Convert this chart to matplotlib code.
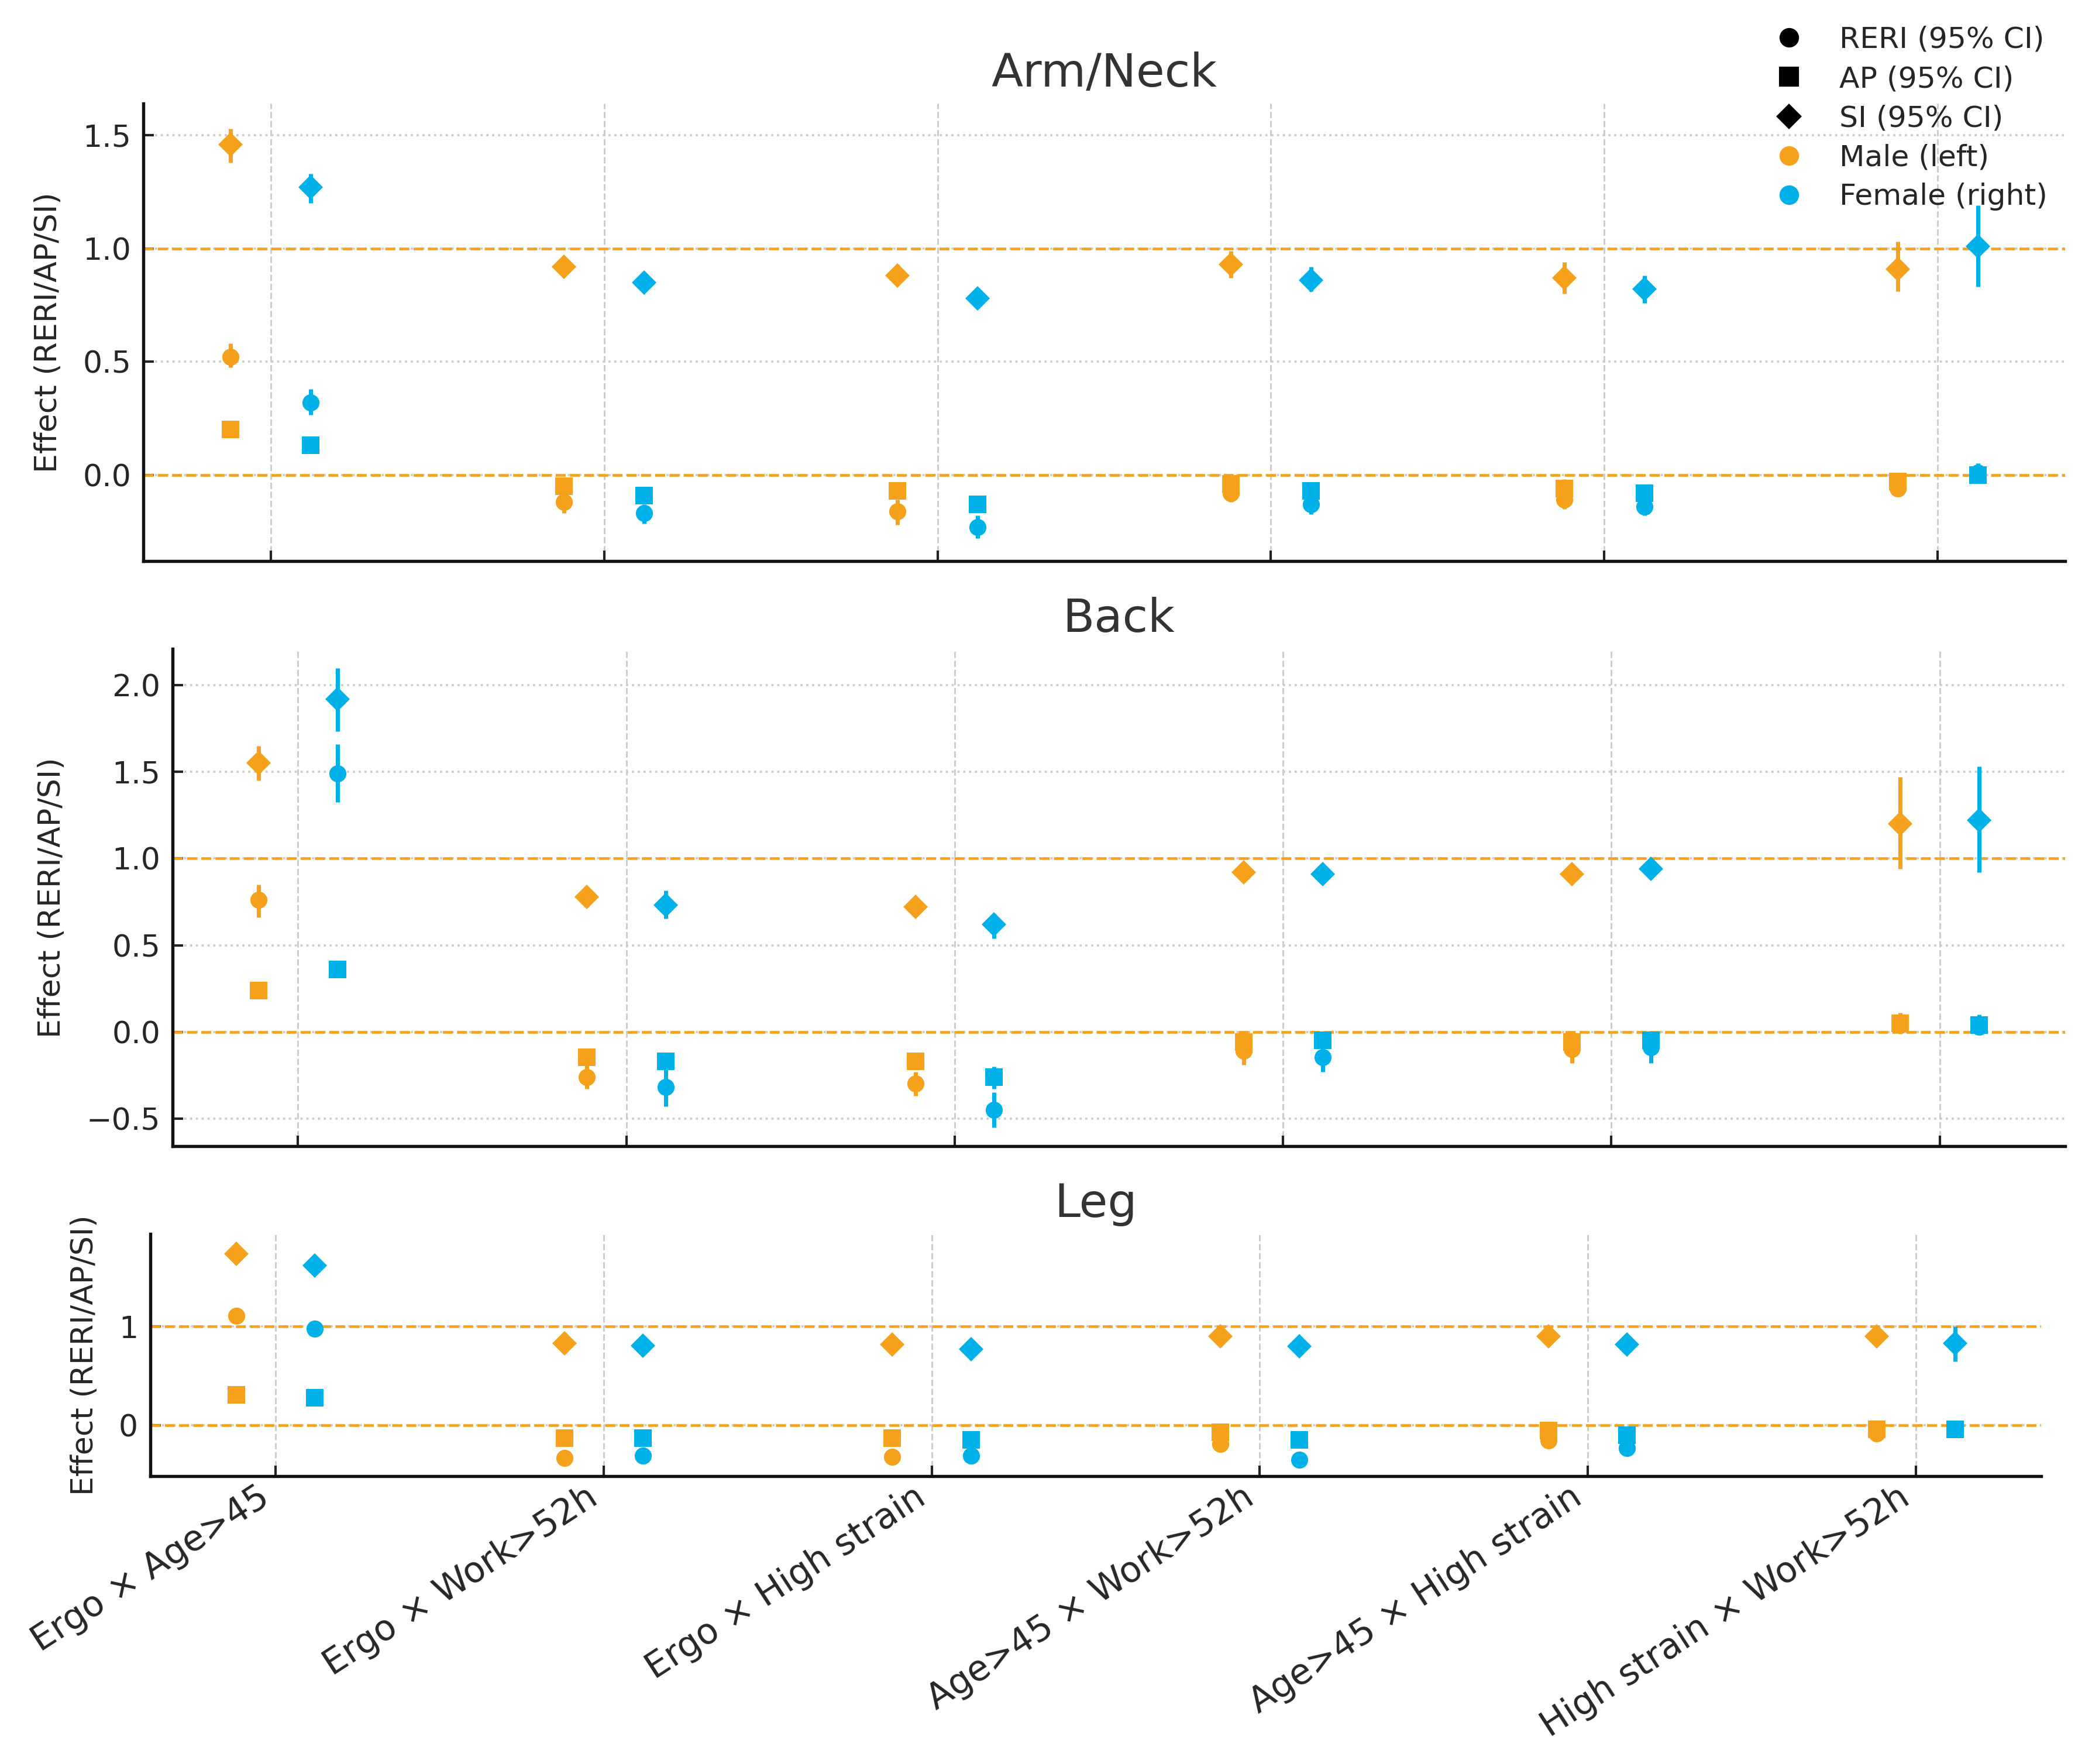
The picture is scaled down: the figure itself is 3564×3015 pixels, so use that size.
import numpy as np
import matplotlib
matplotlib.use("Agg")
import matplotlib.pyplot as plt
from matplotlib.lines import Line2D

# interaction terms on the x axis
categories = ["Ergo × Age>45", "Ergo × Work>52h", "Ergo × High strain",
              "Age>45 × Work>52h", "Age>45 × High strain", "High strain × Work>52h"]

# (estimate, ci_low, ci_high) per category
arm_reri_male = [(0.52, 0.475, 0.58), (-0.12, -0.17, -0.09), (-0.16, -0.22, -0.11),
                 (-0.08, -0.12, -0.04), (-0.11, -0.15, -0.06), (-0.06, -0.095, -0.02)]
arm_reri_female = [(0.32, 0.265, 0.38), (-0.17, -0.215, -0.13), (-0.23, -0.28, -0.18),
                   (-0.13, -0.175, -0.09), (-0.14, -0.18, -0.10), (0.01, -0.02, 0.05)]
arm_ap_male = [(0.20, 0.19, 0.21), (-0.05, -0.06, -0.04), (-0.07, -0.08, -0.06),
               (-0.04, -0.06, -0.01), (-0.06, -0.08, -0.02), (-0.03, -0.05, 0.01)]
arm_ap_female = [(0.13, 0.12, 0.14), (-0.09, -0.10, -0.08), (-0.13, -0.14, -0.12),
                 (-0.07, -0.09, -0.05), (-0.08, -0.10, -0.06), (0.00, -0.02, 0.05)]
arm_si_male = [(1.46, 1.38, 1.53), (0.92, 0.89, 0.95), (0.88, 0.84, 0.93),
               (0.93, 0.87, 0.99), (0.87, 0.80, 0.94), (0.91, 0.81, 1.03)]
arm_si_female = [(1.27, 1.20, 1.33), (0.85, 0.83, 0.87), (0.78, 0.75, 0.81),
                 (0.86, 0.81, 0.92), (0.82, 0.76, 0.88), (1.01, 0.83, 1.19)]

back_reri_male = [(0.76, 0.66, 0.85), (-0.26, -0.33, -0.19), (-0.30, -0.37, -0.23),
                  (-0.11, -0.19, -0.04), (-0.10, -0.18, -0.03), (0.04, -0.01, 0.11)]
back_reri_female = [(1.49, 1.325, 1.66), (-0.32, -0.43, -0.21), (-0.45, -0.55, -0.35),
                    (-0.145, -0.23, -0.07), (-0.09, -0.18, -0.02), (0.03, -0.01, 0.10)]
back_ap_male = [(0.24, 0.23, 0.25), (-0.145, -0.17, -0.11), (-0.17, -0.19, -0.15),
                (-0.06, -0.09, -0.01), (-0.06, -0.09, -0.02), (0.05, 0.02, 0.09)]
back_ap_female = [(0.36, 0.35, 0.37), (-0.17, -0.22, -0.12), (-0.26, -0.33, -0.20),
                  (-0.05, -0.08, -0.02), (-0.05, -0.08, -0.01), (0.04, 0.01, 0.09)]
back_si_male = [(1.55, 1.45, 1.65), (0.78, 0.75, 0.81), (0.72, 0.68, 0.77),
                (0.92, 0.89, 0.95), (0.91, 0.87, 0.95), (1.20, 0.94, 1.47)]
back_si_female = [(1.92, 1.735, 2.10), (0.73, 0.655, 0.815), (0.62, 0.54, 0.68),
                  (0.91, 0.88, 0.94), (0.94, 0.91, 0.97), (1.22, 0.92, 1.53)]

leg_reri_male = [(1.11, 1.09, 1.13), (-0.33, -0.35, -0.31), (-0.32, -0.34, -0.30),
                 (-0.19, -0.22, -0.16), (-0.155, -0.18, -0.13), (-0.08, -0.10, -0.06)]
leg_reri_female = [(0.98, 0.96, 1.00), (-0.31, -0.33, -0.29), (-0.31, -0.33, -0.29),
                   (-0.35, -0.37, -0.33), (-0.23, -0.26, -0.20), (-0.04, -0.06, -0.02)]
leg_ap_male = [(0.31, 0.30, 0.32), (-0.13, -0.14, -0.12), (-0.13, -0.14, -0.12),
               (-0.07, -0.09, -0.05), (-0.05, -0.07, -0.03), (-0.04, -0.06, -0.02)]
leg_ap_female = [(0.28, 0.27, 0.29), (-0.13, -0.14, -0.12), (-0.15, -0.16, -0.14),
                 (-0.15, -0.16, -0.14), (-0.10, -0.12, -0.08), (-0.04, -0.05, -0.03)]
leg_si_male = [(1.74, 1.72, 1.76), (0.83, 0.81, 0.85), (0.82, 0.80, 0.84),
               (0.90, 0.88, 0.92), (0.90, 0.88, 0.92), (0.90, 0.87, 0.93)]
leg_si_female = [(1.62, 1.59, 1.65), (0.81, 0.79, 0.83), (0.77, 0.75, 0.79),
                 (0.80, 0.78, 0.82), (0.82, 0.80, 0.84), (0.83, 0.65, 1.00)]

regions = [
    ("Arm/Neck", arm_reri_male, arm_reri_female, arm_ap_male, arm_ap_female, arm_si_male, arm_si_female),
    ("Back", back_reri_male, back_reri_female, back_ap_male, back_ap_female, back_si_male, back_si_female),
    ("Leg", leg_reri_male, leg_reri_female, leg_ap_male, leg_ap_female, leg_si_male, leg_si_female),
]

MALE = "#F5A11C"
FEMALE = "#00B1E9"
TXT = "#262626"
OFFSET = 0.12
FS = 12.5

plt.rcParams["font.family"] = ["DejaVu Sans"]

fig = plt.figure(figsize=(11.88, 10.05), dpi=300)
# axes rectangles [left, bottom, width, height] in figure fractions
rects = [
    [0.0687, 0.682, 0.9218, 0.2593],
    [0.0828, 0.3502, 0.9077, 0.2820],
    [0.0721, 0.1632, 0.9069, 0.1373],
]
ylims = [(-0.38, 1.64), (-0.66, 2.21), (-0.515, 1.94)]
yticks = [[0.0, 0.5, 1.0, 1.5], [-0.5, 0.0, 0.5, 1.0, 1.5, 2.0], [0, 1]]

x = np.arange(len(categories))


def draw(ax, data, xpos, marker, color):
    arr = np.array(data)
    est, lo, hi = arr[:, 0], arr[:, 1], arr[:, 2]
    ax.errorbar(xpos, est, yerr=[est - lo, hi - est], fmt=marker, color=color,
                ecolor=color, elinewidth=1.7, capsize=0, markersize=7,
                markeredgewidth=0, zorder=3)


for i, (name, rm, rf, am, af, sm, sf) in enumerate(regions):
    ax = fig.add_axes(rects[i])
    draw(ax, rm, x - OFFSET, "o", MALE)
    draw(ax, rf, x + OFFSET, "o", FEMALE)
    draw(ax, am, x - OFFSET, "s", MALE)
    draw(ax, af, x + OFFSET, "s", FEMALE)
    draw(ax, sm, x - OFFSET, "D", MALE)
    draw(ax, sf, x + OFFSET, "D", FEMALE)

    ax.axhline(0, color=MALE, linestyle="--", linewidth=1.1, zorder=2)
    ax.axhline(1, color=MALE, linestyle="--", linewidth=1.1, zorder=2)

    ax.set_ylim(*ylims[i])
    ax.set_yticks(yticks[i])
    ax.set_xticks(x)

    ax.grid(axis="y", linestyle=":", color="#cccccc", linewidth=0.9, zorder=0)
    ax.grid(axis="x", linestyle="--", color="#cccccc", linewidth=0.7, zorder=0)
    ax.set_axisbelow(True)

    ax.set_title(name, fontsize=19, color="#333333", pad=7)
    ax.set_ylabel("Effect (RERI/AP/SI)", fontsize=FS, color=TXT, labelpad=8)
    ax.tick_params(axis="both", direction="in", length=4.3, width=1.0,
                   labelsize=FS, labelcolor=TXT, color="#222222")
    ax.tick_params(axis="y", pad=5)

    if i == 2:
        ax.set_xticklabels(categories, rotation=33, ha="right")
        ax.tick_params(axis="x", pad=1.5, labelsize=14.5)
    else:
        ax.set_xticklabels([])

    for s in ["top", "right"]:
        ax.spines[s].set_visible(False)
    for s in ["left", "bottom"]:
        ax.spines[s].set_linewidth(1.3)
        ax.spines[s].set_color("#111111")

handles = [
    Line2D([], [], marker="o", color="black", linestyle="none", markersize=7),
    Line2D([], [], marker="s", color="black", linestyle="none", markersize=7),
    Line2D([], [], marker="D", color="black", linestyle="none", markersize=6.5),
    Line2D([], [], marker="o", color=MALE, linestyle="none", markersize=7),
    Line2D([], [], marker="o", color=FEMALE, linestyle="none", markersize=7),
]
labels = ["RERI (95% CI)", "AP (95% CI)", "SI (95% CI)", "Male (left)", "Female (right)"]
leg = fig.legend(handles, labels, loc="upper right", bbox_to_anchor=(0.9925, 0.998),
                 frameon=False, fontsize=12.1, labelspacing=0.38, handletextpad=0.7,
                 borderpad=0.25)
for t in leg.get_texts():
    t.set_color(TXT)

fig.savefig("out.png", dpi=300)
